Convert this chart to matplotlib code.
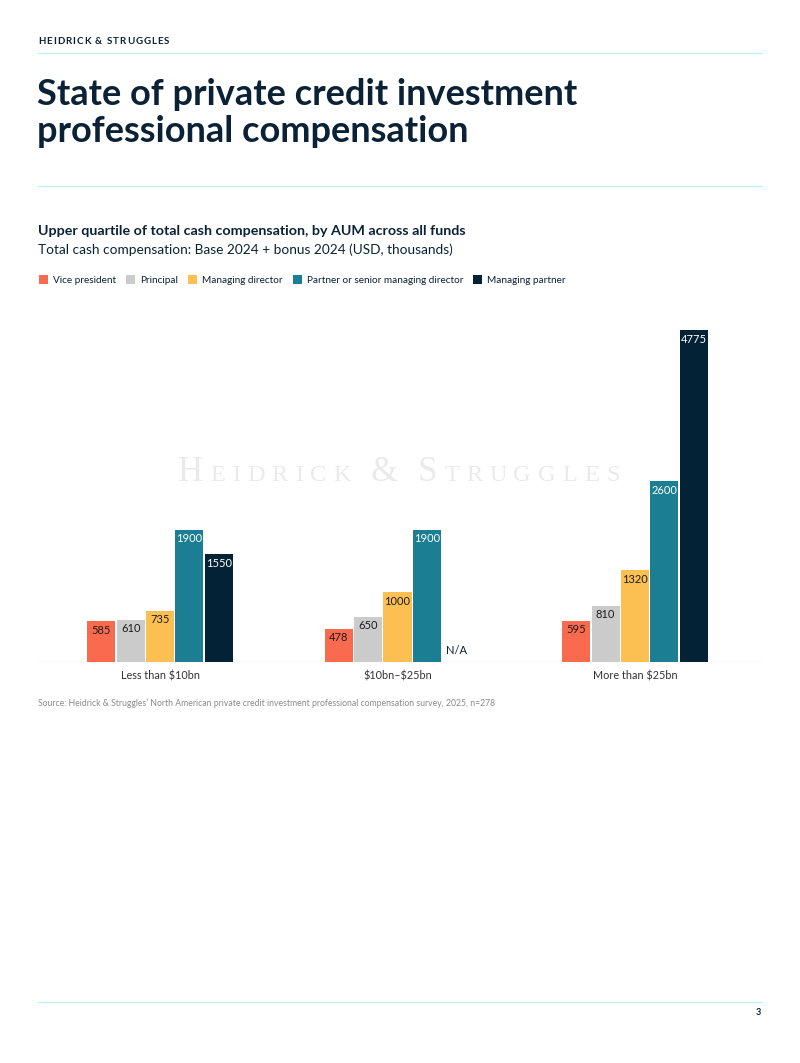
import numpy as np
import matplotlib
matplotlib.use("Agg")
import matplotlib.pyplot as plt
from matplotlib.transforms import IdentityTransform
from matplotlib.patches import Patch
from matplotlib.lines import Line2D

plt.rcParams["font.family"] = ["Lato", "DejaVu Sans"]

# data
categories = ["Less than \\$10bn", "\\$10bn\u2013\\$25bn", "More than \\$25bn"]
series_names = ["Vice president", "Principal", "Managing director",
                "Partner or senior managing director", "Managing partner"]
vice_president = [585, 478, 595]
principal = [610, 650, 810]
managing_director = [735, 1000, 1320]
partner = [1900, 1900, 2600]
managing_partner = [1550, None, 4775]

colors = ["#F96A4E", "#CBCBCB", "#FCC052", "#1B7E92", "#032236"]
label_colors = ["#1c1c1c", "#1c1c1c", "#1c1c1c", "white", "white"]
NAVY = "#0B2236"
RULE = "#BFEFF4"

W, H = 800, 1063
fig = plt.figure(figsize=(W / 100, H / 100), dpi=100)
renderer = fig.canvas.get_renderer()


def px(y_top):
    # y measured from top of page -> display coords
    return H - y_top


def spaced_text(x, y, parts, tracking, **kw):
    # draw text char by char so letter spacing can be set
    for s, size in parts:
        for ch in s:
            if ch == " ":
                x += size * 0.35 + tracking
                continue
            t = fig.text(x, y, ch, fontsize=size, transform=IdentityTransform(), **kw)
            x += t.get_window_extent(renderer).width + tracking
    return x


# header
spaced_text(38, px(44), [("HEIDRICK & STRUGGLES", 7)], 1.0,
            fontweight="bold", color=NAVY, va="baseline")
for yy in (53, 186, 1002):
    fig.add_artist(Line2D([38, 762], [px(yy), px(yy)], transform=IdentityTransform(),
                          color=RULE, lw=0.9))

for yy, line in [(105, "State of private credit investment"), (142, "professional compensation")]:
    fig.text(37, px(yy), line, transform=IdentityTransform(), fontsize=26,
             fontweight="bold", color=NAVY, va="baseline")

fig.text(38, px(235), "Upper quartile of total cash compensation, by AUM across all funds",
         transform=IdentityTransform(), fontsize=10.3, fontweight="bold", color=NAVY,
         va="baseline")
fig.text(38, px(254), "Total cash compensation: Base 2024 + bonus 2024 (USD, thousands)",
         transform=IdentityTransform(), fontsize=9.8, color=NAVY, va="baseline")

fig.text(38, px(706), "Source: Heidrick & Struggles\u2019 North American private credit investment "
         "professional compensation survey, 2025, n=278",
         transform=IdentityTransform(), fontsize=6.2, color="#8a8a8a", va="baseline")
fig.text(761, px(1015), "3", transform=IdentityTransform(), fontsize=6.5,
         fontweight="bold", color=NAVY, ha="right", va="baseline")

# chart
ax = fig.add_axes([38 / W, 1 - 662 / H, 724 / W, (662 - 320) / H])
ax.set_xlim(-0.514, 2.535)
ax.set_ylim(0, 4920)
for s in ax.spines.values():
    s.set_visible(False)
ax.set_yticks([])
ax.axhline(0, color="#E6E6E6", lw=1.0, zorder=1)

# watermark
wm_parts = [("H", 25), ("EIDRICK", 17.5), (" ", 17.5), ("&", 25), (" ", 17.5),
            ("S", 25), ("TRUGGLES", 17.5)]
spaced_text(178, px(481), wm_parts, 7.0, family=["Liberation Serif", "DejaVu Serif"],
            color="#EAEAEA", va="baseline", zorder=0)

x = np.arange(len(categories))
step = 0.1235
width = 0.118
all_series = [vice_president, principal, managing_director, partner, managing_partner]
for i, (vals, name) in enumerate(zip(all_series, series_names)):
    pos = x + (i - 2) * step
    for xp, v in zip(pos, vals):
        if v is None:
            ax.text(xp, 90, "N/A", ha="center", va="bottom", fontsize=8, color=NAVY)
            continue
        ax.bar(xp, v, width=width, color=colors[i], zorder=2)
        ax.annotate(f"{v}", (xp, v), xytext=(0, -2.5), textcoords="offset points",
                    ha="center", va="top", fontsize=8, color=label_colors[i], zorder=3)

ax.set_xticks(x)
ax.set_xticklabels(categories, fontsize=7.8, color="#333333")
ax.tick_params(axis="x", length=0, pad=6)

handles = [Patch(facecolor=c, edgecolor="none") for c in colors]
fig.legend(handles, series_names, loc="center left", bbox_to_anchor=(30 / W, 1 - 280 / H),
           ncol=5, frameon=False, fontsize=7.2, handlelength=0.9, handleheight=0.9,
           handletextpad=0.5, columnspacing=1.0, labelcolor=NAVY)

fig.savefig("out.png", dpi=100)
